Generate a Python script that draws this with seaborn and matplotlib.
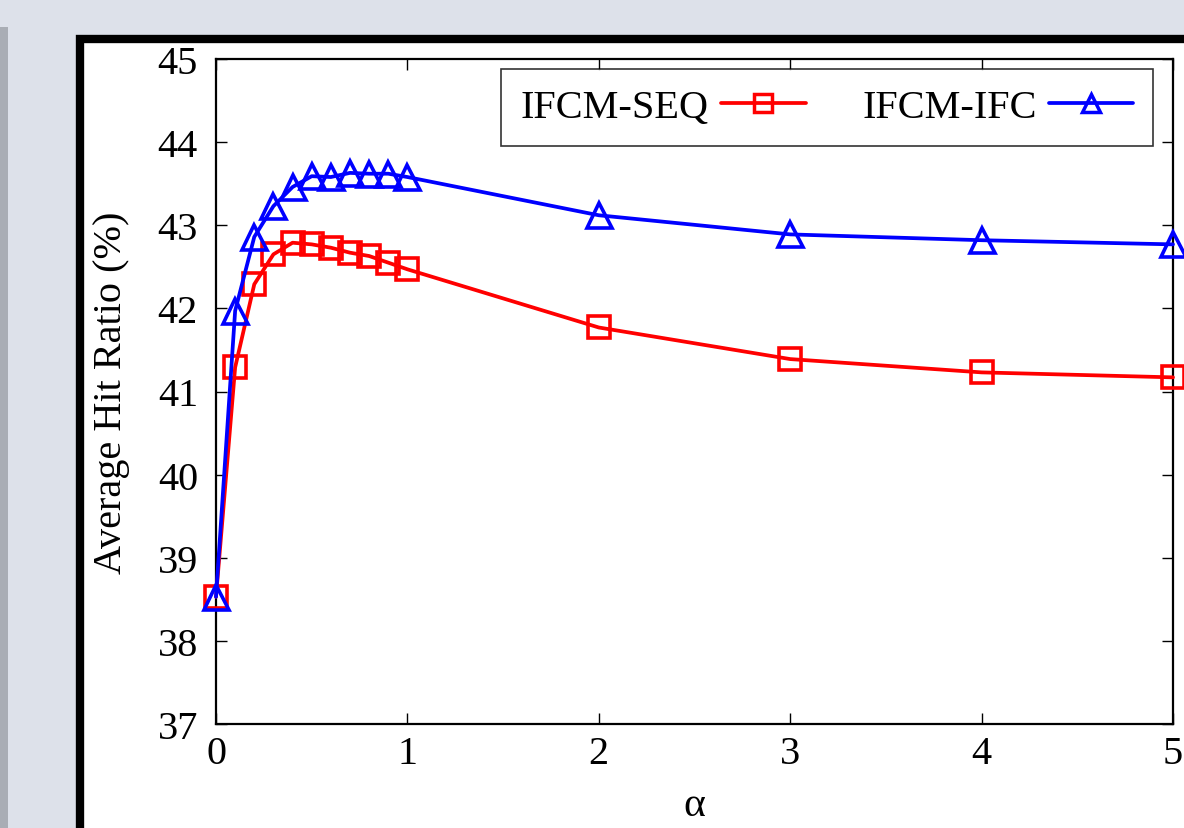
import numpy as np
import pandas as pd
import matplotlib
matplotlib.use('Agg')
import matplotlib.pyplot as plt
from matplotlib.patches import Rectangle
from matplotlib.lines import Line2D
import seaborn as sns

# 数据
alpha = [0, 0.1, 0.2, 0.3, 0.4, 0.5, 0.6, 0.7, 0.8, 0.9, 1, 2, 3, 4, 5]
seq = [38.53, 41.29, 42.29, 42.65, 42.79, 42.77, 42.73, 42.67, 42.63, 42.55, 42.47,
       41.77, 41.39, 41.23, 41.17]
ifc = [38.53, 41.97, 42.86, 43.23, 43.46, 43.59, 43.58, 43.63, 43.62, 43.62, 43.58,
       43.12, 42.89, 42.82, 42.77]
names = ['IFCM-SEQ', 'IFCM-IFC']
colors = ['#ff0000', '#0000ff']
marks = ['s', '^']
x_ticks = [0, 1, 2, 3, 4, 5]
y_ticks = [37, 38, 39, 40, 41, 42, 43, 44, 45]

df = pd.DataFrame({
    'alpha': alpha * 2,
    'ratio': seq + ifc,
    'method': [names[0]] * len(alpha) + [names[1]] * len(alpha),
})

sns.set_style('ticks')
plt.rcParams['font.family'] = ['Liberation Serif', 'DejaVu Serif']
plt.rcParams['text.color'] = 'black'
plt.rcParams['axes.labelcolor'] = 'black'
plt.rcParams['xtick.color'] = 'black'
plt.rcParams['ytick.color'] = 'black'

W, H = 1184, 829
fig = plt.figure(figsize=(W / 100, H / 100), dpi=100)
fig.patch.set_facecolor('#dde1ea')

# 页面上的白色卡片和黑边
fig.patches.append(Rectangle((0, 0), 8 / W, 1 - 28 / H, transform=fig.transFigure,
                             facecolor='#a9adb5', edgecolor='none', zorder=-2))
fig.patches.append(Rectangle((80 / W, -20 / H), 1.2, 1 - 20 / H,
                             transform=fig.transFigure, facecolor='white',
                             edgecolor='black', linewidth=6, zorder=-1))

ax = fig.add_axes([216 / W, 1 - 725 / H, 957 / W, 665 / H])
ax.set_facecolor('white')

for name, c, m in zip(names, colors, marks):
    sub = df[df['method'] == name]
    sns.lineplot(data=sub, x='alpha', y='ratio', ax=ax, color=c, marker=m,
                 markersize=16.5 if m == 's' else 18, markerfacecolor='none',
                 markeredgecolor=c, markeredgewidth=2.6, linewidth=2.7,
                 clip_on=False, label=name, zorder=3)

ax.set_xlim(0, 5)
ax.set_ylim(37, 45)
ax.set_xticks(x_ticks)
ax.set_yticks(y_ticks)
ax.tick_params(direction='in', length=8, width=1, labelsize=29, top=True, right=True)
ax.tick_params(axis='y', pad=13)
ax.tick_params(axis='x', pad=8)
for s in ax.spines.values():
    s.set_linewidth(1.6)
    s.set_color('black')
ax.set_xlabel('α', fontsize=30, labelpad=10)
ax.set_ylabel('Average Hit Ratio (%)', fontsize=29, labelpad=20)

handles = [Line2D([], [], color=c, marker=m, markersize=13, markerfacecolor='none',
                  markeredgecolor=c, markeredgewidth=2.5, linewidth=2.7)
           for c, m in zip(colors, marks)]
leg = ax.legend(handles, names, loc='upper right', bbox_to_anchor=(0.9795, 0.985),
                ncol=2, markerfirst=False, fontsize=29, frameon=True, fancybox=False,
                handlelength=2.1, columnspacing=1.4, handletextpad=0.3,
                borderpad=0.5, borderaxespad=0)
leg.get_frame().set_edgecolor('black')
leg.get_frame().set_linewidth(1.2)

fig.savefig('out.png', dpi=100, facecolor=fig.get_facecolor())
